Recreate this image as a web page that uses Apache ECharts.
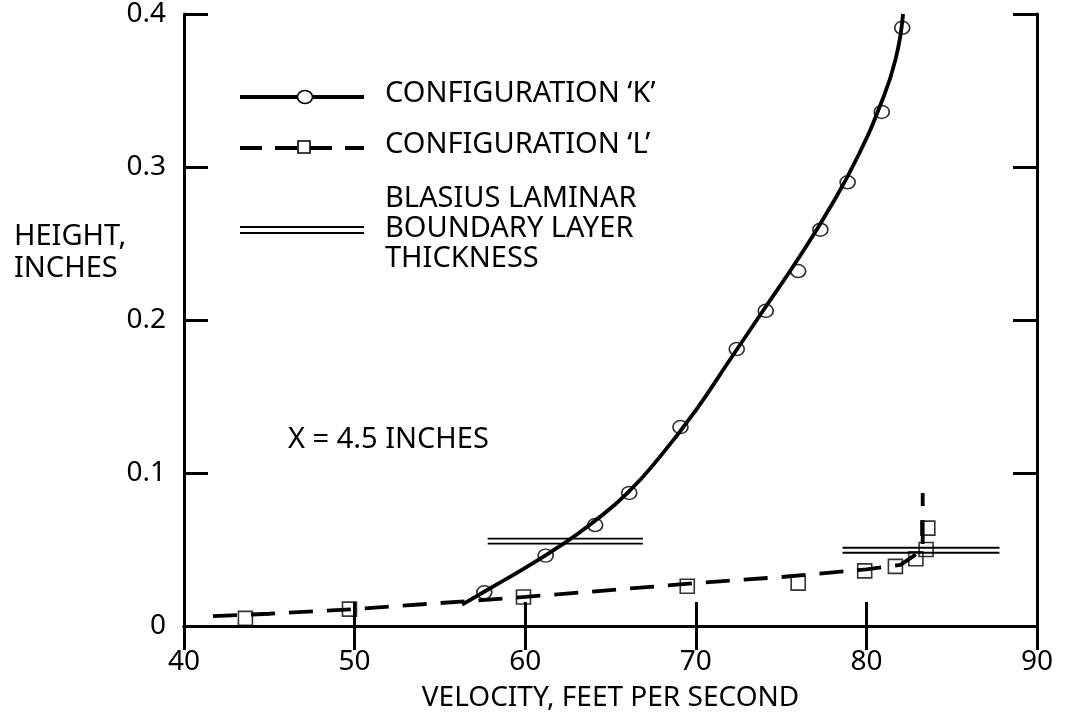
<!DOCTYPE html>
<html>
<head>
<meta charset="utf-8">
<script src="https://cdn.jsdelivr.net/npm/echarts@6/dist/echarts.min.js"></script>
<style>
  html, body { margin: 0; padding: 0; background: #fff; }
  #chart { width: 1065px; height: 717px; }
</style>
</head>
<body>
<div id="chart"></div>
<script>
// measured points, configuration K (circles) and L (squares): [velocity ft/s, height in]
const kPoints = [
  [57.6, 0.022], [61.2, 0.046], [64.1, 0.066], [66.1, 0.087], [69.1, 0.130],
  [72.4, 0.181], [74.1, 0.206], [76.0, 0.232], [77.3, 0.259], [78.9, 0.290],
  [80.9, 0.336], [82.1, 0.391]
]
const lPoints = [
  [43.6, 0.005], [49.7, 0.011], [59.9, 0.019], [69.5, 0.026], [76.0, 0.028],
  [79.9, 0.036], [81.7, 0.039], [82.9, 0.044], [83.5, 0.050], [83.6, 0.064]
]
// faired curves
const kFit = [
  [56.3, 0.014], [58, 0.025], [60, 0.038], [62, 0.052], [64, 0.068], [66, 0.087],
  [68, 0.112], [70, 0.141], [72, 0.174], [74, 0.207], [76, 0.240], [78, 0.276],
  [79.5, 0.307], [80.8, 0.340], [81.7, 0.370], [82.15, 0.400]
]
const lFit = [
  [41.7, 0.0065], [45, 0.008], [50, 0.011], [55, 0.015], [60, 0.019], [65, 0.0235],
  [70, 0.028], [75, 0.032], [80, 0.037], [82, 0.040], [82.8, 0.046], [83.3, 0.050],
  [83.3, 0.087]
]
// Blasius laminar boundary layer thickness: [from velocity, to velocity, height]
const blasius = [
  [57.8, 66.9, 0.0555],
  [78.6, 87.8, 0.0495]
]

const FONT = 'Noto Sans'
const TXT = '29px "Noto Sans"'
const chart = echarts.init(document.getElementById('chart'))

const axisBase = {
  type: 'value',
  axisLine: { lineStyle: { color: '#000', width: 3 } },
  axisTick: { inside: true, length: 24, lineStyle: { color: '#000', width: 3 } },
  splitLine: { show: false }
}

chart.setOption({
  animation: false,
  backgroundColor: '#fff',
  textStyle: { fontFamily: FONT, color: '#000' },
  grid: { left: 184, right: 28, top: 14, bottom: 83 },
  xAxis: [{
    ...axisBase,
    min: 40, max: 90, interval: 10,
    axisLabel: { fontSize: 28, color: '#000', margin: 22, fontFamily: FONT },
    name: 'VELOCITY, FEET PER SECOND',
    nameLocation: 'middle',
    nameGap: 58,
    nameTextStyle: { fontSize: 28, color: '#000', fontFamily: FONT }
  }, {
    ...axisBase,
    position: 'top',
    min: 40, max: 90, interval: 10,
    axisLabel: { show: false }
  }],
  yAxis: [{
    ...axisBase,
    min: 0, max: 0.4, interval: 0.1,
    axisLabel: { fontSize: 28, color: '#000', margin: 18, fontFamily: FONT }
  }, {
    ...axisBase,
    position: 'right',
    min: 0, max: 0.4, interval: 0.1,
    axisLabel: { show: false }
  }],
  series: [{
    type: 'line',
    data: kFit,
    smooth: true,
    showSymbol: false,
    lineStyle: { color: '#000', width: 3.8 }
  }, {
    type: 'scatter',
    data: kPoints,
    symbol: 'circle',
    symbolSize: [15, 13],
    itemStyle: { color: 'rgba(0,0,0,0)', borderColor: '#000', borderWidth: 1.6 }
  }, {
    type: 'line',
    data: lFit,
    smooth: false,
    showSymbol: false,
    lineStyle: { color: '#000', width: 3.8, type: [24, 14] }
  }, {
    type: 'scatter',
    data: lPoints,
    symbol: 'rect',
    symbolSize: 14,
    itemStyle: { color: 'rgba(0,0,0,0)', borderColor: '#000', borderWidth: 1.6 }
  }, {
    type: 'custom',
    data: blasius,
    encode: { x: [0, 1], y: 2 },
    renderItem: (params, api) => {
      const a = api.coord([api.value(0), api.value(2)])
      const b = api.coord([api.value(1), api.value(2)])
      const st = { stroke: '#000', lineWidth: 1.8 }
      return {
        type: 'group',
        children: [
          { type: 'line', shape: { x1: a[0], y1: a[1] - 2.5, x2: b[0], y2: b[1] - 2.5 }, style: st },
          { type: 'line', shape: { x1: a[0], y1: a[1] + 2.5, x2: b[0], y2: b[1] + 2.5 }, style: st }
        ]
      }
    }
  }],
  graphic: [
    // y axis title
    { type: 'text', left: 14, top: 221, style: { text: 'HEIGHT,\nINCHES', font: TXT, fill: '#000', lineHeight: 32 } },
    // annotation
    { type: 'text', left: 288, top: 425, style: { text: 'X = 4.5 INCHES', font: TXT, fill: '#000' } },
    // legend, row K
    { type: 'line', shape: { x1: 240, y1: 97, x2: 364, y2: 97 }, style: { stroke: '#000', lineWidth: 3.8 } },
    { type: 'ellipse', shape: { cx: 305, cy: 97, rx: 7.5, ry: 6.5 }, style: { fill: '#fff', stroke: '#000', lineWidth: 1.6 } },
    { type: 'text', left: 385, top: 79, style: { text: 'CONFIGURATION \u2018K\u2019', font: TXT, fill: '#000' } },
    // legend, row L
    { type: 'line', shape: { x1: 240, y1: 148, x2: 364, y2: 148 }, style: { stroke: '#000', lineWidth: 3.8, lineDash: [22, 13] } },
    { type: 'rect', shape: { x: 298, y: 141, width: 12, height: 12 }, style: { fill: '#fff', stroke: '#000', lineWidth: 1.6 } },
    { type: 'text', left: 385, top: 130, style: { text: 'CONFIGURATION \u2018L\u2019', font: TXT, fill: '#000' } },
    // legend, Blasius
    { type: 'line', shape: { x1: 240, y1: 227, x2: 364, y2: 227 }, style: { stroke: '#000', lineWidth: 1.8 } },
    { type: 'line', shape: { x1: 240, y1: 233, x2: 364, y2: 233 }, style: { stroke: '#000', lineWidth: 1.8 } },
    { type: 'text', left: 385, top: 184, style: { text: 'BLASIUS LAMINAR\nBOUNDARY LAYER\nTHICKNESS', font: TXT, fill: '#000', lineHeight: 30 } }
  ]
})
</script>
</body>
</html>
